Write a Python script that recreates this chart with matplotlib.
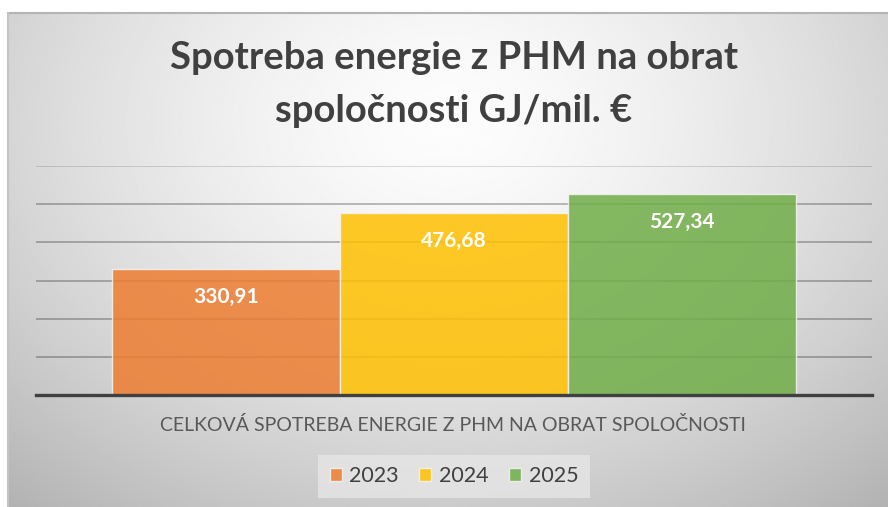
import matplotlib.pyplot as plt
import numpy as np
from matplotlib.patches import Patch

# data
category = "CELKOVÁ SPOTREBA ENERGIE Z PHM NA OBRAT SPOLOČNOSTI"
years = ["2023", "2024", "2025"]
values = [330.91, 476.68, 527.34]
value_labels = ["330,91", "476,68", "527,34"]
colors = ["#ED7D31", "#FFC000", "#70AD47"]
title_lines = ["Spotreba energie z PHM na obrat", "spoločnosti GJ/mil. €"]

W, H = 888, 507
fig = plt.figure(figsize=(W / 100, H / 100), dpi=100)
fig.patch.set_facecolor("white")

# chart background with radial gradient
bg = fig.add_axes([8 / W, 0, 1 - 8 / W, (H - 13) / H])
yy, xx = np.mgrid[0:1:300j, 0:1:500j]
r = np.sqrt(((xx - 0.5) / 0.75) ** 2 + ((yy - 0.22) / 1.0) ** 2)
shade = np.clip(0.99 - 0.28 * r ** 1.5, 0, 1)
bg.imshow(shade, cmap="gray", vmin=0, vmax=1, aspect="auto",
          extent=[0, 1, 1, 0], interpolation="bilinear")
bg.set_axis_off()
fig.add_artist(plt.Line2D([8 / W, 1], [(H - 13) / H] * 2, color="#b4b4b4", lw=1.5))
fig.add_artist(plt.Line2D([8 / W] * 2, [0, (H - 13) / H], color="#c4c4c4", lw=1.5))

ax = fig.add_axes([36 / W, (H - 395) / H, (872 - 36) / W, (395 - 166) / H])
ax.patch.set_alpha(0)
ax.set_xlim(-0.5, 0.5)
ax.set_ylim(0, 600)

for y in range(100, 601, 100):
    ax.axhline(y, color="black", alpha=0.16 if y == 600 else 0.3, lw=1.2, zorder=1)

bw = 228 / 836
xs = [-bw, 0, bw]
bars = ax.bar(xs, values, width=bw, color=colors, alpha=0.85,
              edgecolor="#f4f4f4", linewidth=1, zorder=2)
for x, v, lab in zip(xs, values, value_labels):
    ax.annotate(lab, (x, v), xytext=(0, -20), textcoords="offset points",
                ha="center", va="center", color="white", fontsize=15,
                fontweight="bold", family="Lato", zorder=4)

ax.axhline(0, color="#404040", lw=2.4, zorder=3, clip_on=False)
for s in ax.spines.values():
    s.set_visible(False)
ax.set_xticks([])
ax.set_yticks([])

for line, base in zip(title_lines, [69, 122]):
    fig.text(454 / W, 1 - base / H, line, ha="center", va="baseline",
             fontsize=27.5, fontweight="bold", family="Lato", color="#404040")

fig.text(453 / W, 1 - 425 / H, category, ha="center", va="center",
         fontsize=14, family="Lato", color="#595959")

handles = [Patch(facecolor=c, alpha=0.85, edgecolor="#f4f4f4") for c in colors]
leg = fig.legend(handles, years, loc="center", bbox_to_anchor=(454 / W, 1 - 476.5 / H),
                 ncol=3, frameon=True, handlelength=0.56,
                 handleheight=0.56, handletextpad=0.35, columnspacing=0.95,
                 borderpad=0.55, fancybox=False, prop={"family": "Lato", "size": 15.5})
leg.get_frame().set_facecolor("#e6e6e6")
leg.get_frame().set_edgecolor("none")
for t in leg.get_texts():
    t.set_color("#404040")

fig.savefig("out.png", dpi=100)
